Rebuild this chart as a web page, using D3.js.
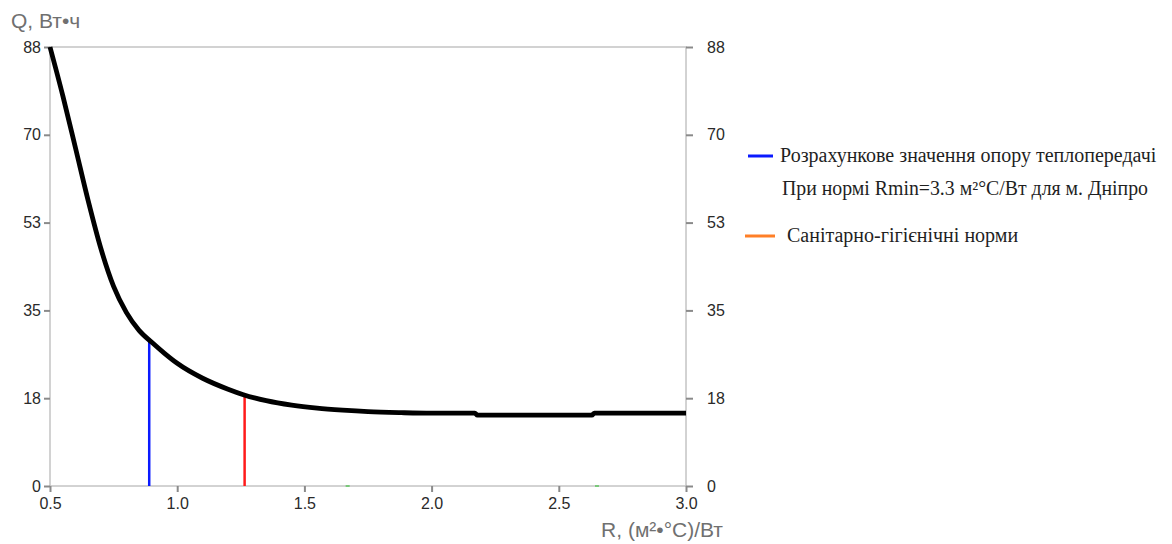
<!DOCTYPE html>
<html>
<head>
<meta charset="utf-8">
<script src="https://cdn.jsdelivr.net/npm/d3@7"></script>
<style>
  html, body { margin: 0; padding: 0; background: #fff; }
  svg { display: block; }
</style>
</head>
<body>
<svg id="chart" width="1172" height="544"></svg>
<script>
// Heat loss Q (Wh) versus thermal resistance R, (m²·°C)/W
const rValues = [0.5, 0.55, 0.6, 0.65, 0.7, 0.75, 0.8, 0.85, 0.9, 0.95, 1.0, 1.1, 1.2, 1.26, 1.35, 1.45, 1.55, 1.65, 1.75, 1.88, 2.0, 2.17, 2.18, 2.63, 2.64, 3.0];
const qValues = [88, 78.3, 67.8, 57.2, 47.6, 40.0, 34.8, 31.2, 28.8, 26.6, 24.6, 21.6, 19.4, 18.3, 17.1, 16.2, 15.6, 15.2, 14.9, 14.7, 14.6, 14.6, 14.2, 14.2, 14.6, 14.6];

// Vertical markers: design value and sanitary norm
const markerR = [0.89, 1.265];
const markerQ = [29.0, 18.3];
const markerColors = ["#0a1aff", "#ff1a1a"];

// Small green marks lying on the zero line
const zeroMarksR = [1.67, 2.65];

// Axis ticks
const xTicks = [0.5, 1.0, 1.5, 2.0, 2.5, 3.0];
const yTicks = [0, 17.6, 35.2, 52.8, 70.4, 88];
const yTickLabels = ["0", "18", "35", "53", "70", "88"];

// Legend entries
const legendLabels = [
  "Розрахункове значення опору теплопередачі",
  "При нормі Rmin=3.3 м\u00B2°C/Вт для м. Дніпро",
  "Санітарно-гігієнічні норми"
];
const legendColors = ["#0a1aff", null, "#ff7f27"];

const svg = d3.select("#chart");
const plotLeft = 50, plotRight = 686, plotTop = 47, plotBottom = 486;

const x = d3.scaleLinear().domain([0.5, 3.0]).range([plotLeft, plotRight]);
const y = d3.scaleLinear().domain([0, 88]).range([plotBottom, plotTop]);

const axisColor = "#c4c4c4";
const tickColor = "#8a8a8a";
const labelFont = "'Liberation Sans', Arial, sans-serif";

// Frame
svg.append("rect")
  .attr("x", plotLeft).attr("y", plotTop)
  .attr("width", plotRight - plotLeft).attr("height", plotBottom - plotTop)
  .attr("fill", "none").attr("stroke", axisColor).attr("stroke-width", 1.5);

function styleAxis(g) {
  g.select(".domain").remove();
  g.selectAll(".tick line").attr("stroke", tickColor).attr("stroke-width", 2);
  g.selectAll(".tick text")
    .attr("fill", "#2a2a2a")
    .style("font-family", labelFont)
    .style("font-size", "16px");
}

// Left axis
svg.append("g")
  .attr("transform", `translate(${plotLeft},0)`)
  .call(d3.axisLeft(y).tickValues(yTicks).tickFormat((d, i) => yTickLabels[i]).tickSize(6).tickPadding(3))
  .call(styleAxis);

// Right axis
svg.append("g")
  .attr("transform", `translate(${plotRight},0)`)
  .call(d3.axisRight(y).tickValues(yTicks).tickFormat((d, i) => yTickLabels[i]).tickSize(7).tickPadding(14))
  .call(styleAxis);

// Bottom axis
svg.append("g")
  .attr("transform", `translate(0,${plotBottom})`)
  .call(d3.axisBottom(x).tickValues(xTicks).tickFormat(d3.format(".1f")).tickSize(6).tickPadding(6))
  .call(styleAxis);

// Axis titles
svg.append("text")
  .attr("x", 11).attr("y", 28)
  .attr("fill", "#707070")
  .style("font-family", labelFont)
  .style("font-size", "21px")
  .text("Q, Вт•ч");

svg.append("text")
  .attr("x", 723).attr("y", 537)
  .attr("text-anchor", "end")
  .attr("fill", "#707070")
  .style("font-family", labelFont)
  .style("font-size", "21px")
  .text("R, (м²•°C)/Вт");

// Marker lines
svg.selectAll("line.marker")
  .data(markerR)
  .join("line")
  .attr("class", "marker")
  .attr("x1", d => x(d)).attr("x2", d => x(d))
  .attr("y1", y(0)).attr("y2", (d, i) => y(markerQ[i]))
  .attr("stroke", (d, i) => markerColors[i])
  .attr("stroke-width", 2.5);

// Zero-line marks
svg.selectAll("line.zmark")
  .data(zeroMarksR)
  .join("line")
  .attr("class", "zmark")
  .attr("x1", d => x(d) - 2).attr("x2", d => x(d) + 2)
  .attr("y1", y(0)).attr("y2", y(0))
  .attr("stroke", "#5cc45c")
  .attr("stroke-width", 1.5);

// Main curve
const pts = rValues.map((r, i) => [r, qValues[i]]);
svg.append("path")
  .datum(pts)
  .attr("fill", "none")
  .attr("stroke", "#000")
  .attr("stroke-width", 4.8)
  .attr("stroke-linejoin", "round")
  .attr("d", d3.line().x(d => x(d[0])).y(d => y(d[1])).curve(d3.curveMonotoneX));

// Legend
const legendY = [162, 195, 242];
const legendX = [780, 782, 787];
const legend = svg.append("g");
legendLabels.forEach((label, i) => {
  if (legendColors[i]) {
    legend.append("line")
      .attr("x1", i === 2 ? 745 : 748).attr("x2", i === 2 ? 775 : 773)
      .attr("y1", legendY[i] - 6).attr("y2", legendY[i] - 6)
      .attr("stroke", legendColors[i])
      .attr("stroke-width", 3);
  }
  const t = legend.append("text")
    .attr("x", legendX[i])
    .attr("y", legendY[i])
    .attr("fill", "#1f1f1f")
    .style("font-family", "'Liberation Serif', 'Times New Roman', serif")
    .style("font-size", "20px")
    .text(label);
  // the second line is set a little tighter
  if (i === 1) t.attr("textLength", 366).attr("lengthAdjust", "spacingAndGlyphs");
});
</script>
</body>
</html>
